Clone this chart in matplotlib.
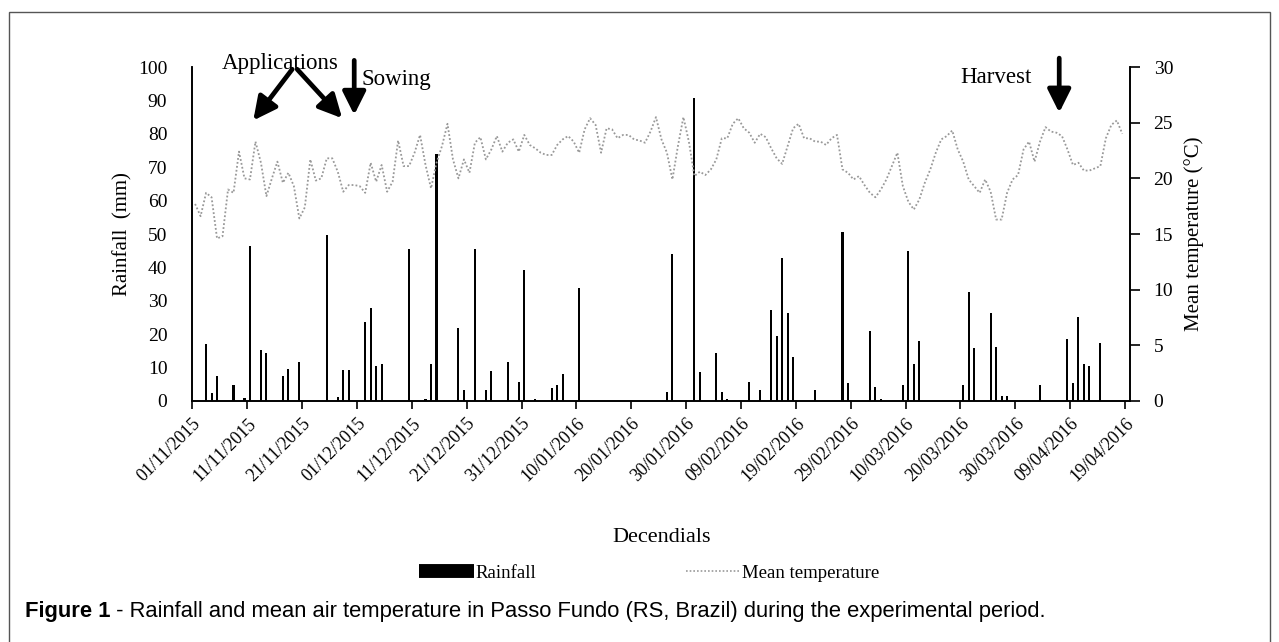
import numpy as np
import matplotlib
matplotlib.use("Agg")
import matplotlib.pyplot as plt
from matplotlib.lines import Line2D
from matplotlib.patches import Rectangle

plt.rcParams["font.family"] = ["Liberation Serif", "DejaVu Serif"]

# tick labels, one every 10 days starting 01/11/2015
date_labels = ["01/11/2015", "11/11/2015", "21/11/2015", "01/12/2015", "11/12/2015",
               "21/12/2015", "31/12/2015", "10/01/2016", "20/01/2016", "30/01/2016",
               "09/02/2016", "19/02/2016", "29/02/2016", "10/03/2016", "20/03/2016",
               "30/03/2016", "09/04/2016", "19/04/2016"]

# rainfall (mm): day index from 01/11/2015 and amount
rain_day = [2, 3, 4, 7, 9, 10, 12, 13, 16, 17, 19, 24, 26, 27, 28, 31, 32, 33, 34, 39,
            42, 43, 44, 48, 49, 51, 53, 54, 57, 59, 60, 62, 65, 66, 67, 70, 86, 87, 91, 92,
            95, 96, 97, 101, 103, 105, 106, 107, 108, 109, 113, 118, 119, 123, 124, 125,
            129, 130, 131, 132, 140, 141, 142, 145, 146, 147, 148, 154, 159, 160, 161,
            162, 163, 165]
rain_mm = [17.0, 2.3, 7.5, 4.8, 0.9, 46.5, 15.4, 14.3, 7.5, 9.6, 11.7, 49.7, 1.2, 9.2, 9.2,
           23.7, 27.7, 10.6, 11.1, 45.4, 0.7, 11.1, 74.0, 22.0, 3.3, 45.4, 3.3, 9.1, 11.7,
           5.8, 39.2, 0.7, 3.8, 4.8, 8.0, 33.9, 2.8, 43.9, 90.8, 8.6, 14.3, 2.8, 0.7, 5.8,
           3.3, 27.2, 19.5, 42.9, 26.2, 13.2, 3.3, 50.7, 5.3, 21.1, 4.3, 0.7, 4.8, 44.9,
           11.1, 18.0, 4.8, 32.5, 15.8, 26.2, 16.3, 1.5, 1.5, 4.8, 18.5, 5.3, 25.1, 11.1,
           10.6, 17.4]

# daily mean temperature (C)
temp = [17.7, 16.6, 18.7, 18.3, 14.6, 14.8, 19.0, 18.7, 22.4, 20.0,
        19.9, 23.3, 21.4, 18.4, 20.0, 21.5, 19.6, 20.5, 19.3, 16.4,
        17.4, 21.7, 19.8, 20.0, 21.8, 21.8, 20.6, 18.8, 19.4, 19.4,
        19.3, 18.7, 21.4, 19.7, 21.2, 18.8, 19.7, 23.4, 21.1, 21.1,
        22.3, 23.9, 21.2, 19.1, 21.4, 22.9, 24.9, 21.7, 20.0, 21.7,
        20.5, 23.2, 23.7, 21.7, 22.6, 23.8, 22.4, 23.2, 23.5, 22.4,
        23.9, 23.0, 22.7, 22.3, 22.1, 22.1, 23.0, 23.5, 23.8, 23.3,
        22.3, 24.4, 25.4, 24.8, 22.3, 24.5, 24.4, 23.6, 23.9, 23.9,
        23.5, 23.4, 23.2, 24.2, 25.5, 23.5, 22.3, 19.9, 22.9, 25.5,
        23.3, 20.2, 20.6, 20.3, 20.8, 21.7, 23.6, 23.6, 24.9, 25.4,
        24.5, 24.1, 23.2, 24.0, 23.7, 22.7, 21.8, 21.3, 22.9, 24.5,
        24.9, 23.6, 23.6, 23.3, 23.3, 23.0, 23.6, 23.9, 20.8, 20.5,
        19.9, 20.2, 19.4, 18.7, 18.3, 19.0, 19.9, 21.1, 22.3, 19.3,
        17.9, 17.2, 18.1, 19.6, 20.8, 22.3, 23.5, 23.8, 24.3, 22.6,
        21.5, 19.9, 19.3, 18.7, 19.9, 18.8, 16.3, 16.3, 18.7, 19.9,
        20.3, 22.6, 23.3, 21.5, 23.3, 24.6, 24.2, 24.1, 23.8, 22.6,
        21.2, 21.4, 20.7, 20.7, 20.9, 21.1, 23.6, 24.8, 25.2, 24.0]

fig = plt.figure(figsize=(12.79, 6.42), dpi=100)
ax = fig.add_axes([0.1504, 0.3754, 0.7331, 0.5202])
ax2 = ax.twinx()

ax.bar(np.array(rain_day) + 0.5, rain_mm, width=0.38, color="black", zorder=3)
ax2.plot(np.arange(len(temp)) + 0.5, temp, color="#999999", lw=1.3, ls=(0, (1, 1.2)))

ax.set_xlim(0, 170.9)
ax.set_ylim(0, 100)
ax2.set_ylim(0, 30)
ax.set_yticks(range(0, 101, 10))
ax2.set_yticks(range(0, 31, 5))
ax.set_xticks(range(0, 10 * len(date_labels), 10))
ax.set_xticklabels(date_labels, rotation=45, ha="right", rotation_mode="anchor", fontsize=13)

for a in (ax, ax2):
    a.spines["top"].set_visible(False)
    a.patch.set_visible(False)
ax.tick_params(axis="y", length=0, pad=18, labelsize=14)
ax.tick_params(axis="x", length=6, width=1.2, direction="out", pad=4)
ax2.tick_params(axis="y", length=7, width=1.2, direction="out", pad=10, labelsize=14)
for s in ("left", "right", "bottom"):
    ax2.spines[s].set_linewidth(1.2)
    ax.spines[s].set_linewidth(1.2)

ax.set_ylabel("Rainfall  (mm)", fontsize=15, labelpad=4)
ax2.set_ylabel("Mean temperature (\u00b0C)", fontsize=15, labelpad=8)
ax.set_xlabel("Decendials", fontsize=16, labelpad=31)

# event arrows
arr = dict(arrowstyle="-|>,head_width=0.5,head_length=1.0", lw=3.4, color="black",
           shrinkA=0, shrinkB=0, mutation_scale=14)
ax2.annotate("", xy=(11.1, 25.2), xytext=(18.2, 29.8), arrowprops=arr, annotation_clip=False)
ax2.annotate("", xy=(27.3, 25.4), xytext=(19.1, 29.8), arrowprops=arr, annotation_clip=False)
ax2.annotate("", xy=(29.5, 25.7), xytext=(29.5, 30.6), arrowprops=arr, annotation_clip=False)
ax2.annotate("", xy=(158.0, 25.9), xytext=(158.0, 30.8), arrowprops=arr, annotation_clip=False)
ax2.text(16.0, 30.3, "Applications", fontsize=16.5, ha="center", va="center", clip_on=False)
ax2.text(30.9, 28.9, "Sowing", fontsize=16.5, ha="left", va="center", clip_on=False)
ax2.text(146.5, 29.1, "Harvest", fontsize=16.5, ha="center", va="center", clip_on=False)

handles = [Line2D([], [], color="black", lw=10, solid_capstyle="butt"),
           Line2D([], [], color="#999999", lw=1.2, ls=(0, (1, 1.2)))]
fig.legend(handles, ["Rainfall", "Mean temperature"], loc="center",
           bbox_to_anchor=(0.5 + 10 / 1279, 1 - 573 / 642), ncol=2, frameon=False,
           fontsize=13.5, handlelength=2.9, handletextpad=0.1, columnspacing=8.0)

# outer frame and caption
fig.patches.append(Rectangle((9 / 1279, -0.05), 1261 / 1279, 1.05 - 12 / 642,
                             transform=fig.transFigure, fill=False, edgecolor="#555555",
                             lw=1.0))
cap_y = 1 - 611 / 642
t1 = fig.text(25 / 1279, cap_y, "Figure 1", fontsize=15.8, fontweight="bold",
              family="Liberation Sans", va="center")
fig.canvas.draw()
bb = t1.get_window_extent()
fig.text(bb.x1 / 1279, cap_y,
         " - Rainfall and mean air temperature in Passo Fundo (RS, Brazil) during the experimental period.",
         fontsize=15.8, family="Liberation Sans", va="center")

fig.savefig("out.png", dpi=100)
